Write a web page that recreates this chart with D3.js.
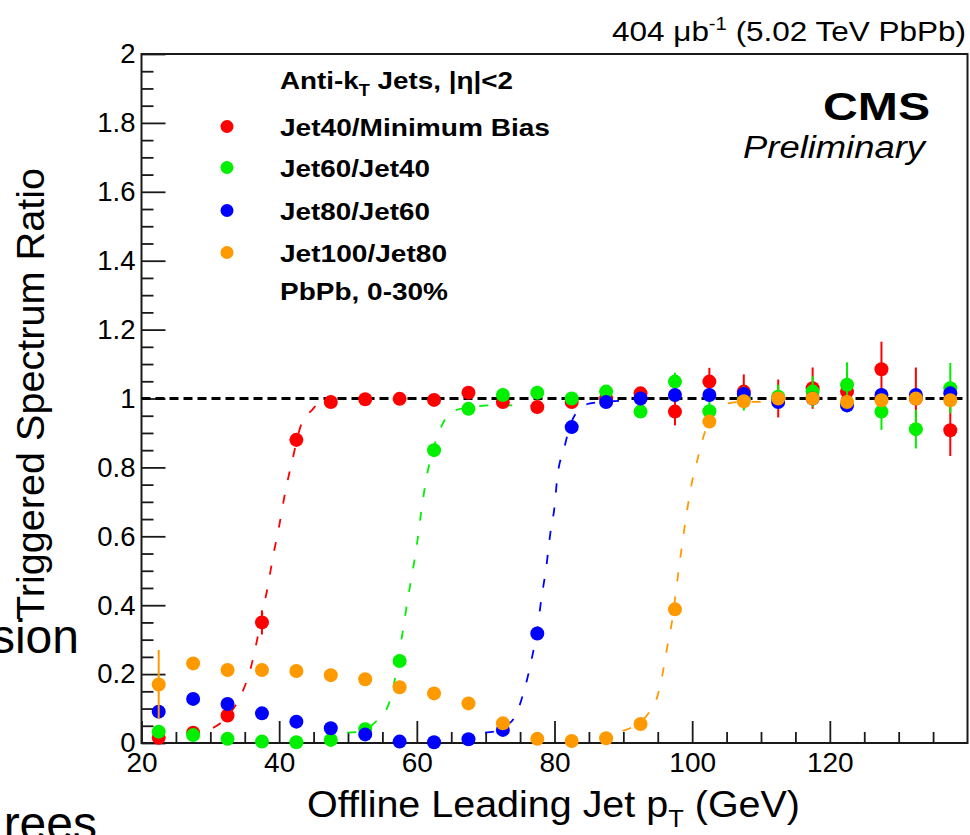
<!DOCTYPE html>
<html>
<head>
<meta charset="utf-8">
<script src="https://cdn.jsdelivr.net/npm/d3@7/dist/d3.min.js"></script>
<style>
  html, body { margin: 0; padding: 0; background: #fff; }
  svg { display: block; }
  text { font-family: "Liberation Sans", Arial, Helvetica, sans-serif; fill: #000; }
</style>
</head>
<body>
<svg id="chart" width="970" height="835"></svg>
<script>
// ---------------- DATA ----------------
const binCenters = [22.5, 27.5, 32.5, 37.5, 42.5, 47.5, 52.5, 57.5, 62.5, 67.5, 72.5, 77.5,
                    82.5, 87.5, 92.5, 97.5, 102.5, 107.5, 112.5, 117.5, 122.5, 127.5, 132.5, 137.5];

const seriesNames = ["Jet40/Minimum Bias", "Jet60/Jet40", "Jet80/Jet60", "Jet100/Jet80"];

const jet40MB = [0.015, 0.03, 0.08, 0.35, 0.88, 0.99, 0.998, 0.999, 0.996, 1.017, 0.99, 0.975,
                 0.99, 1.0, 1.015, 0.962, 1.049, 1.02, 1.0, 1.03, 1.02, 1.085, 1.0, 0.908];
const jet40MBErr = [0.005, 0.006, 0.01, 0.035, 0.02, 0.01, 0.008, 0.008, 0.008, 0.01, 0.01, 0.012,
                    0.015, 0.015, 0.018, 0.04, 0.04, 0.05, 0.055, 0.06, 0.055, 0.08, 0.09, 0.075];

const jet60Jet40 = [0.033, 0.023, 0.012, 0.004, 0.002, 0.009, 0.04, 0.238, 0.85, 0.97, 1.01, 1.017,
                    1.0, 1.02, 0.962, 1.049, 0.963, 1.0, 1.005, 1.02, 1.04, 0.962, 0.911, 1.03];
const jet60Jet40Err = [0.005, 0.005, 0.004, 0.003, 0.003, 0.004, 0.008, 0.012, 0.015, 0.01, 0.01, 0.01,
                       0.01, 0.012, 0.015, 0.026, 0.03, 0.035, 0.035, 0.045, 0.065, 0.053, 0.056, 0.073];

const jet80Jet60 = [0.091, 0.128, 0.113, 0.086, 0.062, 0.043, 0.025, 0.004, 0.002, 0.011, 0.038, 0.318,
                    0.917, 0.99, 1.0, 1.01, 1.01, 1.013, 0.99, 1.0, 0.98, 1.01, 1.01, 1.015];
const jet80Jet60Err = [0.008, 0.008, 0.007, 0.006, 0.005, 0.004, 0.003, 0.002, 0.002, 0.003, 0.005, 0.01,
                       0.01, 0.008, 0.008, 0.01, 0.01, 0.012, 0.012, 0.015, 0.015, 0.018, 0.02, 0.02];

const jet100Jet80 = [0.17, 0.231, 0.212, 0.212, 0.209, 0.197, 0.185, 0.162, 0.144, 0.115, 0.057, 0.012,
                     0.006, 0.014, 0.055, 0.388, 0.933, 0.992, 1.0, 1.0, 0.99, 0.995, 1.0, 0.995];
const jet100Jet80Err = [0.1, 0.015, 0.01, 0.01, 0.01, 0.01, 0.008, 0.008, 0.008, 0.006, 0.005, 0.003,
                        0.002, 0.003, 0.005, 0.01, 0.01, 0.01, 0.01, 0.012, 0.012, 0.015, 0.015, 0.015];

// fit curves
const fitJet40X = [27, 29, 31.5, 33, 34.6, 35.9, 36.8, 37.7, 38.4, 39.1, 40, 40.9, 41.9, 43.3, 44.8, 45.7, 47.7];
const fitJet40Y = [0.03, 0.035, 0.058, 0.09, 0.145, 0.22, 0.3, 0.39, 0.46, 0.54, 0.63, 0.73, 0.82, 0.93, 0.967, 0.987, 1.0];
const fitJet60X = [49.9, 52.2, 54.2, 55.4, 56.4, 57.2, 58, 58.7, 59.4, 60, 60.7, 61.4, 62.5, 64.1, 64.8, 68, 71, 74.6];
const fitJet60Y = [0.03, 0.035, 0.065, 0.09, 0.145, 0.23, 0.33, 0.42, 0.5, 0.575, 0.68, 0.77, 0.86, 0.94, 0.96, 0.975, 0.98, 0.98];
const fitJet80X = [69.9, 71.6, 73, 74.2, 75.7, 76.7, 77.5, 78.1, 78.8, 79.4, 80, 80.4, 81.4, 82.2, 82.9, 85, 87, 89.4];
const fitJet80Y = [0.03, 0.035, 0.05, 0.075, 0.16, 0.245, 0.33, 0.42, 0.51, 0.61, 0.685, 0.77, 0.855, 0.917, 0.95, 0.985, 0.99, 0.993];
const fitJet100X = [89.9, 91.2, 92.5, 93.8, 94.5, 95.5, 96.3, 97.2, 97.7, 98.5, 99.3, 99.9, 100.5, 101.8, 103.5, 105, 107, 110];
const fitJet100Y = [0.035, 0.045, 0.06, 0.09, 0.11, 0.18, 0.27, 0.37, 0.45, 0.57, 0.68, 0.75, 0.8, 0.9, 0.975, 0.985, 0.99, 0.99];

const xTickValues = [20, 40, 60, 80, 100, 120];
const xTickLabels = ["20", "40", "60", "80", "100", "120"];
const yTickValues = [0, 0.2, 0.4, 0.6, 0.8, 1, 1.2, 1.4, 1.6, 1.8, 2];
const yTickLabels = ["0", "0.2", "0.4", "0.6", "0.8", "1", "1.2", "1.4", "1.6", "1.8", "2"];
const referenceLevel = [1];

const colors = ["#ff0000", "#00f000", "#0000ff", "#ff9900"];

// ---------------- CHART ----------------
const svg = d3.select("#chart");
const x = d3.scaleLinear().domain([20, 140]).range([141.5, 967.5]);
const y = d3.scaleLinear().domain([0, 2]).range([743, 54]);

const series = [
  {vals: jet40MB, errs: jet40MBErr, fx: fitJet40X, fy: fitJet40Y},
  {vals: jet60Jet40, errs: jet60Jet40Err, fx: fitJet60X, fy: fitJet60Y},
  {vals: jet80Jet60, errs: jet80Jet60Err, fx: fitJet80X, fy: fitJet80Y},
  {vals: jet100Jet80, errs: jet100Jet80Err, fx: fitJet100X, fy: fitJet100Y}
];

// axes (ticks inside)
const axisColor = "#1a1a1a";
const xMinor = d3.range(20, 140.01, 5).filter(v => v % 20 !== 0);
const yMinor = d3.range(0, 40.01, 1).map(v => v * 0.05).filter((v, i) => i % 4 !== 0);

const gx = svg.append("g").attr("transform", `translate(0,${y(0)})`)
  .call(d3.axisBottom(x).tickValues(xTickValues).tickSize(-22).tickPadding(9)
        .tickFormat((d, i) => xTickLabels[i]));
const gxm = svg.append("g").attr("transform", `translate(0,${y(0)})`)
  .call(d3.axisBottom(x).tickValues(xMinor).tickSize(-11).tickFormat(""));
const gy = svg.append("g").attr("transform", `translate(${x(20)},0)`)
  .call(d3.axisLeft(y).tickValues(yTickValues).tickSize(-24).tickPadding(6)
        .tickFormat((d, i) => yTickLabels[i]));
const gym = svg.append("g").attr("transform", `translate(${x(20)},0)`)
  .call(d3.axisLeft(y).tickValues(yMinor).tickSize(-12).tickFormat(""));
[gx, gxm, gy, gym].forEach(g => {
  g.select(".domain").remove();
  g.selectAll("line").attr("stroke", axisColor).attr("stroke-width", 1.8);
});
gx.selectAll("text").attr("font-size", 28).attr("fill", "#000")
  .attr("font-family", "'Liberation Sans', Arial, sans-serif");
gy.selectAll("text").attr("font-size", 27.5).attr("fill", "#000")
  .attr("font-family", "'Liberation Sans', Arial, sans-serif");

// frame
svg.append("rect")
  .attr("x", x(20)).attr("y", y(2))
  .attr("width", x(140) - x(20)).attr("height", y(0) - y(2))
  .attr("fill", "none").attr("stroke", axisColor).attr("stroke-width", 2);

// reference dashed line at 1
svg.selectAll(".ref").data(referenceLevel).enter().append("line")
  .attr("x1", x(20)).attr("x2", x(140))
  .attr("y1", d => y(d)).attr("y2", d => y(d))
  .attr("stroke", "#000").attr("stroke-width", 3.2)
  .attr("stroke-dasharray", "9,5");

// fit curves
const fitLine = d3.line().x(d => x(d[0])).y(d => y(d[1])).curve(d3.curveMonotoneX);
series.forEach((s, k) => {
  svg.append("path")
    .datum(s.fx.map((v, i) => [v, s.fy[i]]))
    .attr("d", fitLine)
    .attr("fill", "none")
    .attr("stroke", colors[k])
    .attr("stroke-width", 1.8)
    .attr("stroke-dasharray", "9,15");
});

// points with error bars
series.forEach((s, k) => {
  const g = svg.append("g");
  const pts = binCenters.map((c, i) => ({c, v: s.vals[i], e: s.errs[i]}));
  g.selectAll("line").data(pts).enter().append("line")
    .attr("x1", d => x(d.c)).attr("x2", d => x(d.c))
    .attr("y1", d => y(d.v - d.e)).attr("y2", d => y(d.v + d.e))
    .attr("stroke", colors[k]).attr("stroke-width", 2);
  g.selectAll("circle").data(pts).enter().append("circle")
    .attr("cx", d => x(d.c)).attr("cy", d => y(d.v))
    .attr("r", 7).attr("fill", colors[k]);
});

// legend
const legendX = 227, legendTextX = 280;
const legendHeader = svg.append("text")
  .attr("x", legendTextX).attr("y", 89)
  .attr("font-size", 24.5).attr("font-weight", "bold")
  .attr("textLength", 233).attr("lengthAdjust", "spacingAndGlyphs");
legendHeader.append("tspan").text("Anti-k");
legendHeader.append("tspan").attr("font-size", 16).attr("dy", 7).text("T");
legendHeader.append("tspan").attr("dy", -7).text(" Jets, |η|<2");

const legendBaselines = [136, 177, 220, 262];
const legendWidths = [270, 150, 150, 167];
seriesNames.forEach((name, k) => {
  svg.append("circle").attr("cx", legendX).attr("cy", legendBaselines[k] - 9.5)
    .attr("r", 6.5).attr("fill", colors[k]);
  svg.append("text").attr("x", legendTextX).attr("y", legendBaselines[k])
    .attr("font-size", 24.5).attr("font-weight", "bold")
    .attr("textLength", legendWidths[k]).attr("lengthAdjust", "spacingAndGlyphs")
    .text(name);
});
svg.append("text").attr("x", legendTextX).attr("y", 300)
  .attr("font-size", 24.5).attr("font-weight", "bold")
  .attr("textLength", 168).attr("lengthAdjust", "spacingAndGlyphs")
  .text("PbPb, 0-30%");

// CMS label
svg.append("text").attr("x", 823).attr("y", 120)
  .attr("font-size", 39).attr("font-weight", "bold")
  .attr("textLength", 107).attr("lengthAdjust", "spacingAndGlyphs")
  .text("CMS");
svg.append("text").attr("x", 743).attr("y", 158)
  .attr("font-size", 31).attr("font-style", "italic")
  .attr("textLength", 182).attr("lengthAdjust", "spacingAndGlyphs")
  .text("Preliminary");

// luminosity label
const lumi = svg.append("text").attr("x", 612).attr("y", 41)
  .attr("font-size", 28)
  .attr("textLength", 354).attr("lengthAdjust", "spacingAndGlyphs");
lumi.append("tspan").text("404 μb");
lumi.append("tspan").attr("font-size", 18).attr("dy", -11).text("-1");
lumi.append("tspan").attr("dy", 11).text(" (5.02 TeV PbPb)");

// axis titles
const xTitle = svg.append("text").attr("x", 307).attr("y", 817)
  .attr("font-size", 37)
  .attr("textLength", 493).attr("lengthAdjust", "spacingAndGlyphs");
xTitle.append("tspan").text("Offline Leading Jet p");
xTitle.append("tspan").attr("font-size", 24).attr("dy", 10).text("T");
xTitle.append("tspan").attr("dy", -10).text(" (GeV)");

svg.append("text")
  .attr("transform", "translate(44,394) rotate(-90)")
  .attr("text-anchor", "middle")
  .attr("font-size", 38)
  .attr("textLength", 452).attr("lengthAdjust", "spacingAndGlyphs")
  .text("Triggered Spectrum Ratio");

// stray slide text fragments visible in the reference
svg.append("text").attr("x", 79).attr("y", 653).attr("text-anchor", "end")
  .attr("font-size", 48).text("sion");
svg.append("text").attr("x", 97).attr("y", 840).attr("text-anchor", "end")
  .attr("font-size", 48).text("rees");
</script>
</body>
</html>
